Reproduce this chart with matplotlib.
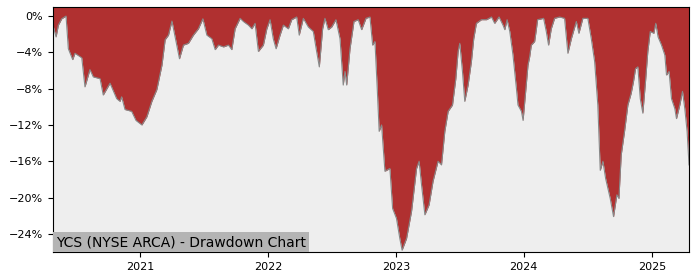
import matplotlib
matplotlib.use("Agg")
from matplotlib import pyplot as plt
from matplotlib.ticker import FuncFormatter
import matplotlib.dates as mdates
import pandas as pd

# time as decimal year, drawdown in percent
years = [2020.320, 2020.344, 2020.362, 2020.388, 2020.422, 2020.440, 2020.474, 2020.492,
         2020.545, 2020.570, 2020.609, 2020.635, 2020.688, 2020.713, 2020.766, 2020.818,
         2020.844, 2020.857, 2020.883, 2020.935, 2020.969, 2021.013, 2021.052, 2021.091,
         2021.130, 2021.170, 2021.195, 2021.221, 2021.248, 2021.273, 2021.307, 2021.338,
         2021.377, 2021.416, 2021.455, 2021.490, 2021.521, 2021.560, 2021.586, 2021.612,
         2021.651, 2021.690, 2021.716, 2021.742, 2021.781, 2021.807, 2021.846, 2021.873,
         2021.898, 2021.924, 2021.963, 2021.990, 2022.016, 2022.041, 2022.063, 2022.094,
         2022.120, 2022.159, 2022.185, 2022.224, 2022.244, 2022.276, 2022.315, 2022.354,
         2022.380, 2022.401, 2022.427, 2022.445, 2022.471, 2022.498, 2022.531, 2022.563,
         2022.588, 2022.602, 2022.615, 2022.641, 2022.672, 2022.705, 2022.732, 2022.766,
         2022.797, 2022.818, 2022.836, 2022.854, 2022.869, 2022.888, 2022.914, 2022.953,
         2022.974, 2023.005, 2023.031, 2023.049, 2023.084, 2023.123, 2023.162, 2023.182,
         2023.201, 2023.227, 2023.260, 2023.291, 2023.330, 2023.357, 2023.383, 2023.409,
         2023.443, 2023.469, 2023.487, 2023.500, 2023.521, 2023.539, 2023.565, 2023.591,
         2023.609, 2023.630, 2023.669, 2023.709, 2023.748, 2023.773, 2023.807, 2023.838,
         2023.852, 2023.870, 2023.891, 2023.916, 2023.943, 2023.955, 2023.982, 2023.995,
         2024.016, 2024.034, 2024.047, 2024.060, 2024.086, 2024.099, 2024.109, 2024.156,
         2024.177, 2024.195, 2024.216, 2024.242, 2024.281, 2024.320, 2024.346, 2024.373,
         2024.412, 2024.432, 2024.463, 2024.502, 2024.529, 2024.555, 2024.580, 2024.599,
         2024.620, 2024.641, 2024.659, 2024.677, 2024.703, 2024.729, 2024.745, 2024.763,
         2024.789, 2024.815, 2024.841, 2024.859, 2024.875, 2024.893, 2024.912, 2024.932,
         2024.953, 2024.971, 2024.990, 2025.016, 2025.031, 2025.049, 2025.076, 2025.102,
         2025.115, 2025.135, 2025.154, 2025.180, 2025.193, 2025.219, 2025.240, 2025.258,
         2025.276, 2025.291]

drawdown = [-1.0, -2.3, -1.0, -0.3, 0.0, -3.6, -4.8, -4.1,
            -4.6, -7.8, -5.9, -6.7, -6.9, -8.7, -7.4, -9.1,
            -9.4, -8.9, -10.3, -10.5, -11.5, -12.0, -11.1, -9.4,
            -8.1, -5.4, -2.6, -2.1, -0.55, -2.3, -4.7, -3.2,
            -3.0, -2.1, -1.4, -0.3, -2.1, -2.5, -3.7, -3.2,
            -3.4, -3.2, -3.7, -1.4, -0.25, -0.6, -1.0, -1.4,
            -0.8, -3.9, -3.2, -1.4, -0.4, -2.5, -3.6, -2.1,
            -1.0, -1.4, -0.4, -0.1, -2.1, -0.25, -1.2, -1.7,
            -3.9, -5.6, -1.4, -0.25, -1.5, -1.2, -0.4, -2.5,
            -7.6, -6.1, -7.6, -3.6, -0.6, -0.4, -1.5, -0.25,
            -0.1, -3.2, -2.8, -8.0, -12.7, -12.0, -17.1, -16.8,
            -21.2, -22.3, -24.5, -25.8, -24.5, -21.5, -16.8, -16.0,
            -18.6, -21.9, -20.8, -18.2, -16.0, -16.4, -12.7, -10.5,
            -9.8, -6.9, -3.9, -3.0, -6.1, -9.4, -7.6, -5.0,
            -2.5, -0.8, -0.4, -0.4, -0.1, -0.8, -0.1, -1.0,
            -1.5, -0.4, -1.7, -4.3, -8.0, -9.8, -10.5, -11.5,
            -8.3, -5.4, -4.5, -3.2, -2.8, -1.5, -0.4, -0.25,
            -1.7, -3.2, -1.4, -0.25, -0.1, -0.25, -4.1, -2.5,
            -0.6, -1.9, -0.25, -0.25, -2.5, -5.0, -9.8, -17.0,
            -16.0, -17.9, -19.0, -20.1, -22.1, -19.7, -20.1, -15.3,
            -12.7, -9.8, -8.5, -7.2, -5.8, -5.6, -9.1, -10.7,
            -7.2, -3.9, -1.7, -1.9, -0.8, -2.3, -3.2, -4.3,
            -6.5, -6.1, -9.1, -10.2, -11.3, -9.8, -8.3, -10.2,
            -12.7, -16.4]

yticks = [0, -4, -8, -12, -16, -20, -24]
title = "YCS (NYSE ARCA) - Drawdown Chart"

def to_date(y):
    year = int(y)
    start = pd.Timestamp(year=year, month=1, day=1)
    return start + pd.Timedelta(days=(y - year) * 365.25)

dates = [to_date(y) for y in years]
ytop = 1

fig = plt.figure(figsize=(7, 2.8), dpi=100)
ax = fig.add_axes([0.0757, 0.1, 0.9086, 0.875])
ax.set_facecolor("#eeeeee")

# red area runs from the top of the plot down to the drawdown curve
ax.fill_between(dates, drawdown, ytop, color="#b03030", linewidth=0)
ax.plot(dates, drawdown, color="#888888", linewidth=0.8)

ax.set_xlim(dates[0], dates[-1])
ax.set_ylim(-26, ytop)
ax.set_yticks(yticks)
ax.yaxis.set_major_formatter(FuncFormatter(lambda v, p: ("%d%%" % v).replace("-", "\u2212")))
ax.xaxis.set_major_locator(mdates.YearLocator())
ax.xaxis.set_major_formatter(mdates.DateFormatter("%Y"))
ax.tick_params(labelsize=8)

ax.text(0.005, 0.012, title, transform=ax.transAxes, fontsize=10, ha="left", va="bottom",
        bbox=dict(facecolor="#b4b4b4", edgecolor="none", pad=2))

fig.savefig("out.png", dpi=100)
